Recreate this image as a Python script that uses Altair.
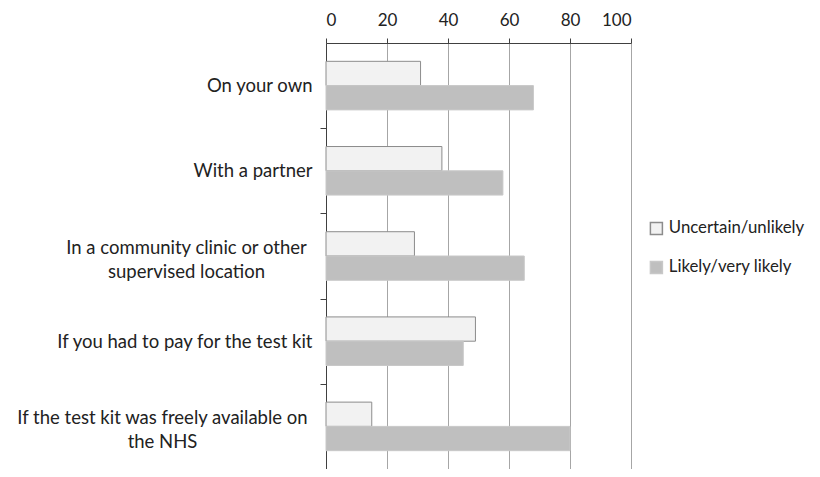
import altair as alt
import pandas as pd

categories = [
    "On your own",
    "With a partner",
    "In a community clinic or other\nsupervised location",
    "If you had to pay for the test kit",
    "If the test kit was freely available on\nthe NHS",
]
series = ["Uncertain/unlikely", "Likely/very likely"]
uncertain = [31, 38, 29, 49, 15]
likely = [68, 58, 65, 45, 80]

rows = []
for c, u, l in zip(categories, uncertain, likely):
    rows.append({"category": c, "response": series[0], "value": u})
    rows.append({"category": c, "response": series[1], "value": l})
df = pd.DataFrame(rows)

FONT = "Lato"
multi = "indexof(datum.label, '\\n') >= 0"
comm = "indexof(datum.label, 'community') >= 0"
nhs = "indexof(datum.label, 'NHS') >= 0"

H = 426
half_step = H / 5 / 2

chart = alt.Chart(df).mark_bar(strokeWidth=1).encode(
    x=alt.X("value:Q",
            scale=alt.Scale(domain=[0, 100]),
            axis=alt.Axis(orient="top", values=[0, 20, 40, 60, 80, 100], title=None,
                          grid=True, gridColor="#a6a6a6", gridWidth=1,
                          domainColor="#404040", tickColor="#404040", tickSize=5,
                          labelFont=FONT, labelFontSize=17, labelColor="#222",
                          labelPadding=9)),
    y=alt.Y("category:N", sort=categories,
            scale=alt.Scale(paddingInner=0.43, paddingOuter=0.215),
            axis=alt.Axis(title=None, tickSize=6, tickOffset=half_step,
                          domainColor="#404040", tickColor="#404040",
                          labelFont=FONT, labelFontSize=18.5, labelColor="#222",
                          labelLineHeight=24, labelLimit=400,
                          labelAlign={"condition": {"test": multi, "value": "center"}, "value": "right"},
                          labelPadding={"condition": [{"test": comm, "value": 134},
                                                      {"test": nhs, "value": 158}], "value": 8},
                          labelOffset={"condition": {"test": multi, "value": -half_step - 9}, "value": -half_step},
                          labelExpr="split(datum.label, '\\n')")),
    yOffset=alt.YOffset("response:N", sort=series),
    color=alt.Color("response:N", sort=series,
                    scale=alt.Scale(domain=series, range=["#f2f2f2", "#bfbfbf"]),
                    legend=alt.Legend(title=None, orient="none", legendX=322, legendY=177,
                                      symbolType="square", symbolSize=144,
                                      labelFont=FONT, labelFontSize=16.8, labelColor="#222",
                                      rowPadding=20, labelOffset=4)),
    stroke=alt.Stroke("response:N", sort=series,
                      scale=alt.Scale(domain=series, range=["#8c8c8c", "#c8c8c8"]),
                      legend=None),
).properties(
    width=305, height=H,
    autosize=alt.AutoSizeParams(type="none"),
    padding={"left": 318, "top": 35, "right": 181, "bottom": 0},
).configure_view(stroke=None)

chart.save("out.html", embed_options={"renderer": "svg", "actions": False})
